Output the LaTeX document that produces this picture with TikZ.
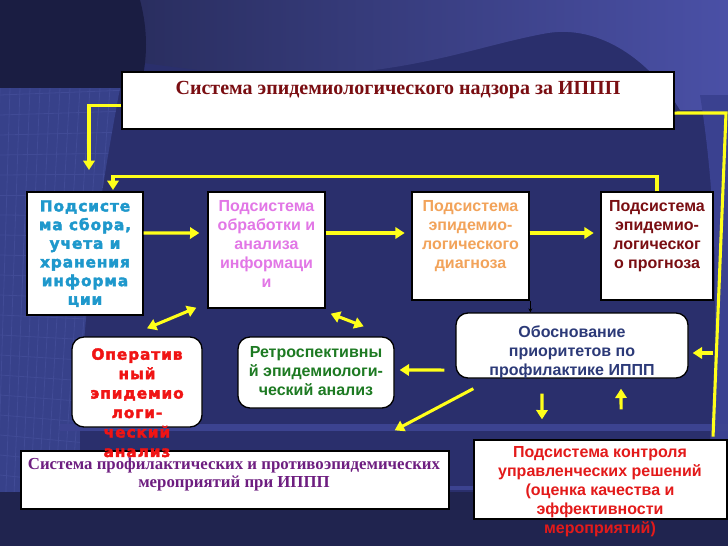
\documentclass[tikz,border=0pt]{standalone}
\usepackage{fontspec}
\setmainfont{Liberation Serif}
\setsansfont{Liberation Sans}
\newfontfamily\heavyfont[LetterSpace=6,FakeBold=2.5]{DejaVu Sans Bold}
\usetikzlibrary{arrows.meta}
\definecolor{bgbase}{HTML}{2A2F6C}
\definecolor{bgdark}{HTML}{1A1D42}
\definecolor{bgtopl}{HTML}{22264F}
\definecolor{bgtopr}{HTML}{4A50A6}
\definecolor{bggrid}{HTML}{37418A}
\definecolor{bggridl}{HTML}{414B96}
\definecolor{bgright}{HTML}{3A4190}
\definecolor{bgbot}{HTML}{20244F}
\definecolor{bgstripe}{HTML}{3C4390}
\definecolor{ttl}{HTML}{7A0E12}
\definecolor{cA}{HTML}{1E98CC}
\definecolor{cB}{HTML}{E277E6}
\definecolor{cC}{HTML}{F2A35A}
\definecolor{cD}{HTML}{7A0E12}
\definecolor{cOp}{HTML}{F01414}
\definecolor{cRet}{HTML}{1D7A22}
\definecolor{cOb}{HTML}{2C3A78}
\definecolor{cSys}{HTML}{6E1E80}
\definecolor{cCtl}{HTML}{E31A1A}
\definecolor{yel}{HTML}{FFFF1A}
\begin{document}
\begin{tikzpicture}[x=0.75pt,y=-0.75pt,
  box/.style={draw=black, line width=1pt, fill=white, inner sep=0pt},
  rbox/.style={box, rounded corners=9pt},
  ytip/.tip={Triangle[length=7pt,width=8.5pt]},
  yarrow/.style={draw=yel, line width=2.3pt, -ytip},
  ydarrow/.style={draw=yel, line width=2.3pt, ytip-ytip},
  yline/.style={draw=yel, line width=2.3pt},
  txt/.style={inner sep=0pt, align=center, anchor=north},
  sansb/.style={font=\sffamily\bfseries\fontsize{12}{14.25}\selectfont},
  heavy/.style={font=\heavyfont\fontsize{11.5}{14}\selectfont}]
\useasboundingbox (0,0) rectangle (728,546);
% ---------- background ----------
\fill[bgbase] (0,0) rectangle (728,546);
\shade[left color=bgtopl, right color=bgtopr] (0,0) -- (728,0) -- (728,110) -- (680,110)
  .. controls (650,60) and (600,25) .. (548,33) .. controls (480,45) and (420,72) .. (300,76)
  .. controls (200,76) and (100,55) .. (0,42) -- cycle;
\fill[bgdark] (0,0) -- (140,0) .. controls (148,30) and (148,60) .. (140,88) -- (0,88) -- cycle;
\begin{scope}
  \clip (0,88) -- (120,88) .. controls (90,250) and (70,400) .. (85,546) -- (0,546) -- cycle;
  \fill[bggrid] (0,88) rectangle (130,546);
  \foreach \i in {0,...,14} {\draw[bggridl, line width=0.6pt] (\i*10-10,88) -- (\i*8-20,546);}
  \foreach \j in {0,...,22} {\draw[bggridl, line width=0.6pt] (0,95+\j*20) -- (130,90+\j*21);}
\end{scope}
\fill[bgright] (728,95) -- (700,95) .. controls (725,250) and (715,420) .. (700,546) -- (728,546) -- cycle;
\fill[bgbot] (0,492) rectangle (728,546);
\fill[bgstripe] (60,424) rectangle (728,431);
\fill[bgstripe] (60,486) rectangle (728,490);
% ---------- boxes ----------
\node[box, minimum width=414pt, minimum height=42.75pt] (title) at (398,100.5) {};
\node[txt, font=\bfseries\fontsize{15}{17}\selectfont, text=ttl] (ttitle) at (398,81)
  {Система эпидемиологического надзора за ИППП};

\node[box, minimum width=87pt, minimum height=92.25pt] (A) at (85,253.5) {};
\node[txt, heavy, text=cA] (tA) at (85,200)
  {Подсисте\\ма сбора,\\учета и\\хранения\\информа\\ции};

\node[box, minimum width=87.75pt, minimum height=87pt] (B) at (266.5,250) {};
\node[txt, sansb, text=cB] (tB) at (266.5,200)
  {Подсистема\\обработки и\\анализа\\информаци\\и};

\node[box, minimum width=87.75pt, minimum height=81pt] (C) at (470.5,246) {};
\node[txt, sansb, text=cC] (tC) at (470.5,200)
  {Подсистема\\эпидемио-\\логического\\диагноза};

\node[box, minimum width=84pt, minimum height=81pt] (D) at (657,246) {};
\node[txt, sansb, text=cD] (tD) at (657,200)
  {Подсистема\\эпидемио-\\логическог\\о прогноза};

\node[box, minimum width=321pt, minimum height=43.5pt] (sys) at (235,480) {};
\node[txt, font=\bfseries\fontsize{12.6}{13.5}\selectfont, text=cSys] (tsys) at (234,458)
  {Система профилактических и противоэпидемических\\мероприятий при ИППП};

\node[rbox, minimum width=97.5pt, minimum height=67.5pt] (oper) at (137,382) {};
\node[txt, font=\heavyfont\fontsize{11.5}{14.6}\selectfont, text=cOp] (toper) at (137,348)
  {Оператив\\ный\\эпидемио\\логи-\\ческий\\анализ};

\node[rbox, minimum width=117pt, minimum height=53.25pt] (retro) at (316,372.5) {};
\node[txt, sansb, text=cRet] (tretro) at (316,346)
  {Ретроспективны\\й эпидемиологи-\\ческий анализ};

\node[rbox, minimum width=174pt, minimum height=48.75pt] (obos) at (572,345.5) {};
\node[txt, sansb, text=cOb] (tobos) at (572,325)
  {Обоснование\\приоритетов по\\профилактике ИППП};

\node[box, minimum width=189.75pt, minimum height=59.25pt] (ctl) at (600.5,479.5) {};
\node[txt, sansb, text=cCtl] (tctl) at (600,446)
  {Подсистема контроля\\управленческих решений\\(оценка качества и\\эффективности\\мероприятий)};

% ---------- connectors ----------
\coordinate (c1) at (89,170);
\draw[yarrow] ([yshift=-4pt]title.west) -| (c1);
\draw[yarrow] (D.north) -- ++(0,-15) -| ([xshift=21pt,yshift=1pt]A.north);
\coordinate (rc) at (726,113);
\draw[yline] ([yshift=-9.4pt]title.east) -- (rc) -- ([xshift=84.4pt,yshift=2pt]ctl.north);
\draw[yarrow] ([xshift=18pt,yshift=-5.6pt]obos.east) -- ([xshift=3pt,yshift=-5.6pt]obos.east);

\draw[yarrow] ([yshift=15.4pt]A.east) -- ([xshift=-6pt,yshift=12.75pt]B.west);
\draw[yarrow] ([yshift=12.75pt]B.east) -- ([xshift=-5pt,yshift=9.75pt]C.west);
\draw[yarrow] ([yshift=9.75pt]C.east) -- ([xshift=-5pt,yshift=9.75pt]D.west);

\draw[black, line width=0.6pt, -{Stealth[length=3pt,width=3pt]}] ([xshift=0.5pt]C.south east) -- ([xshift=0.5pt]C.south east |- obos.north);

\draw[ydarrow] ([xshift=7.5pt,yshift=6pt]oper.north) -- ([xshift=-8.25pt,yshift=0.75pt]B.south west);
\draw[ydarrow] ([xshift=3.75pt,yshift=-3.75pt]B.south east) -- ([xshift=-23.25pt,yshift=7.5pt]retro.north east);
\draw[yarrow] ([xshift=-8.25pt,yshift=-18.4pt]obos.west) -- ([xshift=3.75pt,yshift=1.9pt]retro.east);
\draw[yarrow] ([xshift=13.5pt,yshift=-7.5pt]obos.south west) -- ([xshift=-41.25pt,yshift=15pt]sys.north east);
\draw[yarrow] ([xshift=-22.5pt,yshift=-11.25pt]obos.south) -- ([xshift=-43.9pt,yshift=15pt]ctl.north);
\draw[yarrow] ([xshift=15.4pt,yshift=22.5pt]ctl.north) -- ([xshift=36.75pt,yshift=-7.5pt]obos.south);
\end{tikzpicture}
\end{document}
